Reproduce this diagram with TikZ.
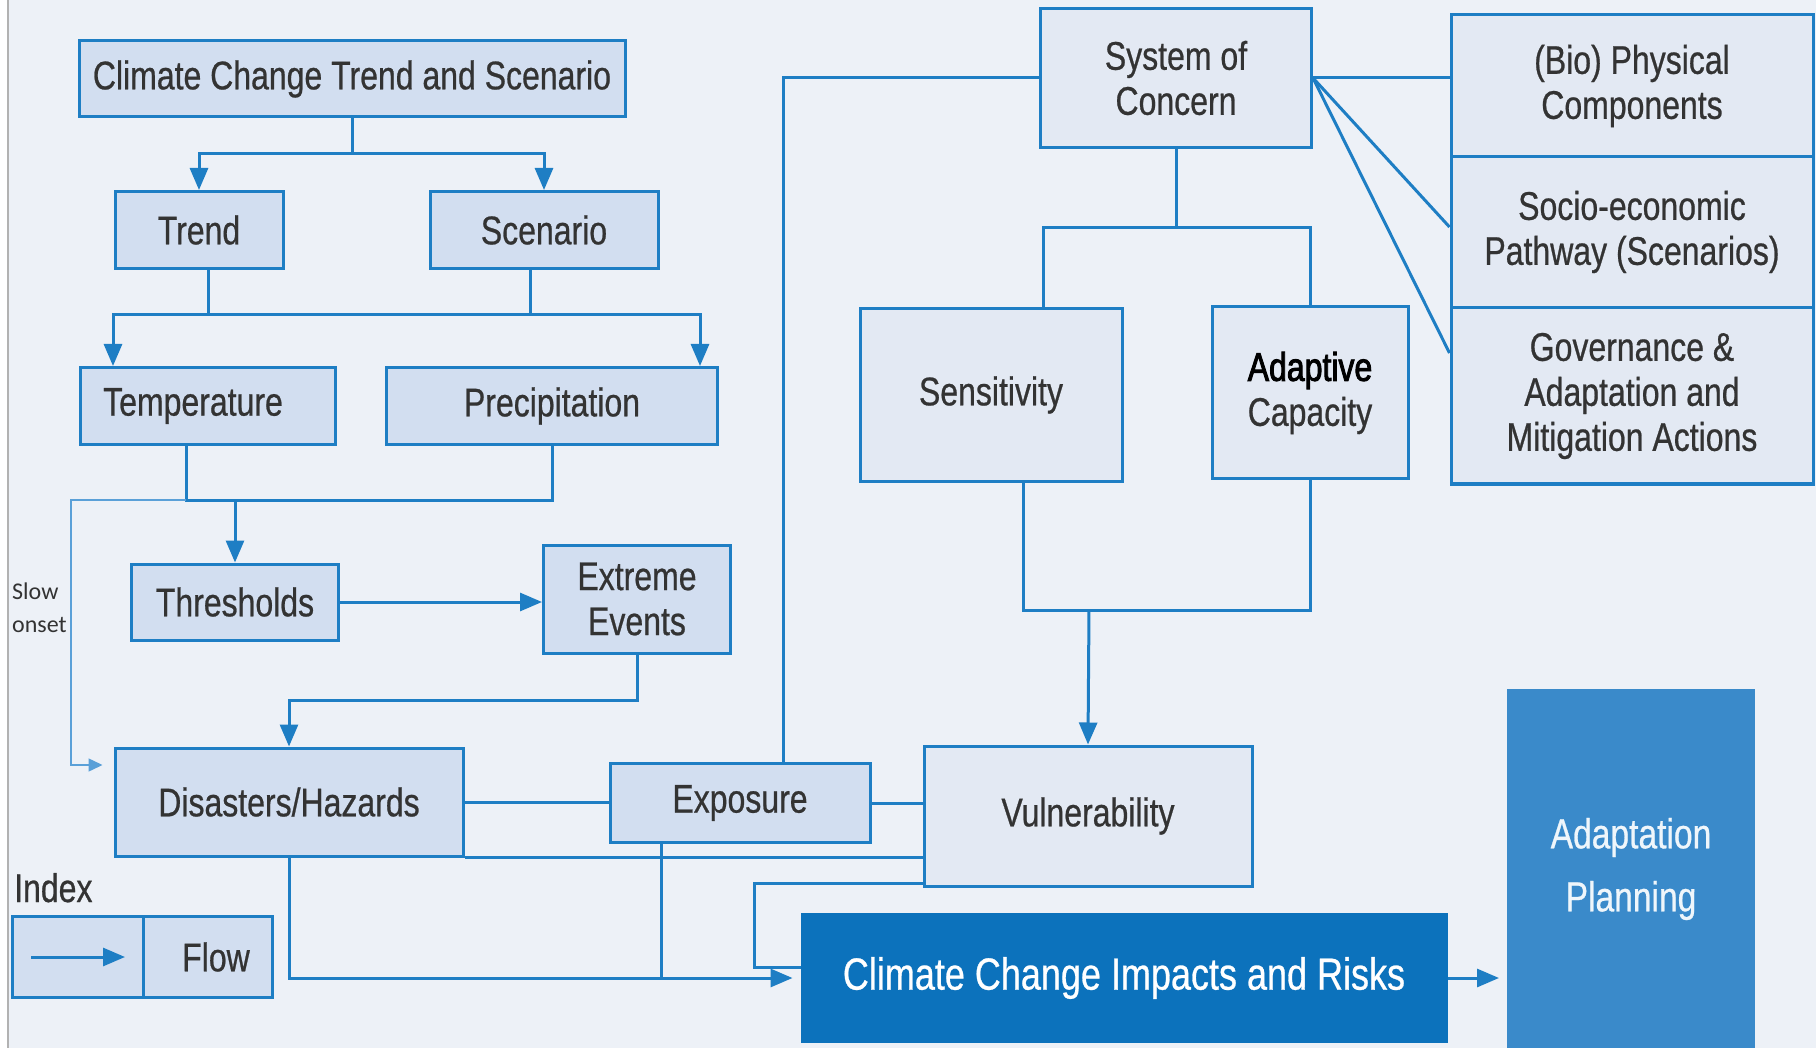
\documentclass[tikz,border=0pt]{standalone}
\usepackage{fontspec}
\usetikzlibrary{arrows.meta}
\newfontfamily\boxfont{Liberation Sans}[FakeStretch=0.8, FakeBold=0.6]
\newfontfamily\heavyfont{Liberation Sans}[FakeStretch=0.8, FakeBold=2.2]
\newfontfamily\slowfont{Carlito}
\definecolor{lineblue}{HTML}{1E7EC4}
\definecolor{boxfill}{HTML}{D2DEF0}
\definecolor{lightfill}{HTML}{E3E9F3}
\definecolor{bgcol}{HTML}{EDF1F7}
\definecolor{txtgray}{HTML}{333333}
\definecolor{riskblue}{HTML}{0C72BC}
\definecolor{planblue}{HTML}{3A8ACA}
\definecolor{slowblue}{HTML}{5AA0D8}
\begin{document}
\begin{tikzpicture}[x=1pt, y=-1pt,
    box/.style={draw=lineblue, line width=3pt, fill=boxfill, text=txtgray, align=center, inner sep=0pt,
      font={\boxfont\fontsize{40}{45}\selectfont}},
    lbox/.style={box, fill=lightfill},
    link/.style={draw=lineblue, line width=3pt},
    flow/.style={link, -{Triangle[length=22pt,width=18pt]}},
    slow/.style={draw=slowblue, line width=1.5pt, -{Triangle[length=14pt,width=13pt]}}]
  \useasboundingbox (0,0) rectangle (1816,1048);
  \fill[white] (0,0) rectangle (1816,1048);
  \fill[bgcol] (8,0) rectangle (1816,1048);
  \draw[gray!60, line width=1.5pt] (8,0) -- (8,1048);

  % left column
  \node[box, minimum width=546pt, minimum height=76pt] (cct) at (352,79) {Climate Change Trend and Scenario};
  \node[box, minimum width=168pt, minimum height=77pt] (trend) at (199,230) {Trend};
  \node[box, minimum width=228pt, minimum height=77pt] (scen) at (544,230) {Scenario};
  \node[box, minimum width=255pt, minimum height=77pt] (temp) at (208,406) {Temperature\hspace*{30pt}};
  \node[box, minimum width=331pt, minimum height=77pt] (prec) at (552,406) {Precipitation};
  \node[box, minimum width=207pt, minimum height=76pt] (thr) at (235,602) {Thresholds};
  \node[box, minimum width=187pt, minimum height=108pt] (ext) at (637,599) {Extreme\\Events};
  \node[box, minimum width=348pt, minimum height=108pt] (dis) at (289,802) {Disasters/Hazards};
  \node[box, minimum width=260pt, minimum height=79pt] (expo) at (740,803) {Exposure};

  % right part
  \node[lbox, minimum width=271pt, minimum height=139pt] (soc) at (1176,78) {System of\\Concern};
  \node[lbox, minimum width=362pt, minimum height=142pt] (bio) at (1632,86) {(Bio) Physical\\Components};
  \node[lbox, minimum width=362pt, minimum height=151pt] (socio) at (1632,232) {Socio-economic\\Pathway (Scenarios)};
  \node[lbox, minimum width=362pt, minimum height=176pt] (gov) at (1632,396) {Governance \&\\Adaptation and\\Mitigation Actions};
  \node[lbox, minimum width=262pt, minimum height=173pt] (sens) at (991,395) {Sensitivity};
  \node[lbox, minimum width=196pt, minimum height=172pt] (adc) at (1310,393) {{\heavyfont\color{black}Adaptive}\\Capacity};
  \node[lbox, minimum width=328pt, minimum height=140pt] (vul) at (1088,816) {Vulnerability};
  \node[box, draw=riskblue, fill=riskblue, text=white, minimum width=644pt, minimum height=127pt,
    font={\boxfont\fontsize{45}{50}\selectfont}] (ccir) at (1124,978) {Climate Change Impacts and Risks};
  \node[box, draw=planblue, fill=planblue, text=white!92!planblue, minimum width=245pt, minimum height=358pt,
    font={\boxfont\fontsize{42}{63}\selectfont}] (adp) at (1631,869) {Adaptation\\Planning};

  % index
  \node[anchor=base west, inner sep=0pt, text=txtgray, font={\boxfont\fontsize{40}{45}\selectfont}] (index) at (14,902) {Index};
  \node[box, minimum width=131pt, minimum height=81pt] (legarr) at (78,957) {};
  \node[box, minimum width=129pt, minimum height=81pt] (legflow) at (208,957) {\hspace*{16pt}Flow};
  \draw[flow] ([xshift=20pt]legarr.west) -- ([xshift=-20pt]legarr.east);

  \node[anchor=west, inner sep=0pt, align=left, text=black!80, font={\slowfont\fontsize{24}{33}\selectfont}] (slowtxt) at (12,608) {Slow\\onset};

  % trend and scenario
  \coordinate (cj) at (352,154);
  \draw[link] (cct.south) -- (cj);
  \draw[flow] (cj) -| (trend.north);
  \draw[flow] (cj) -| (scen.north);

  \coordinate (tt) at (208,315);
  \coordinate (ts) at (530,315);
  \draw[link] (tt |- trend.south) -- (tt);
  \draw[link] (ts |- scen.south) -- (ts);
  \draw[link] (tt) -- (ts);
  \draw[flow] (tt) -| ([xshift=34pt]temp.north west);
  \draw[flow] (ts) -| ([xshift=-19pt]prec.north east);

  \coordinate (tp) at (186,500);
  \draw[link] (tp |- temp.south) -- (tp) -- (tp -| prec.south) -- (prec.south);
  \draw[flow] (tp -| thr.north) -- (thr.north);
  \coordinate (so) at (71,765);
  \draw[slow] (tp) -| (so) -- ([xshift=-11pt]dis.west |- so);

  \draw[flow] (thr.east) -- (ext.west |- thr.east);
  \draw[flow] (ext.south) -- ++(0,46) -| (dis.north);

  % exposure and vulnerability
  \draw[link] (dis.east) -- (expo.west |- dis.east);
  \draw[link] (expo.east) -- (vul.west |- expo.east);
  \draw[link] (dis.south east) -- (vul.west |- dis.south east);
  \draw[link] ([xshift=43pt]expo.north) |- (soc.west);

  % system of concern
  \draw[link] (soc.east) -- (bio.west |- soc.east);
  \draw[link] (soc.east) -- ([yshift=5pt]socio.west);
  \draw[link] (soc.east) -- ([yshift=43pt]gov.west);
  \coordinate (sj) at (1176,228);
  \draw[link] (soc.south) -- (sj);
  \draw[link] (sj) -| ([xshift=52pt]sens.north);
  \draw[link] (sj) -| (adc.north);
  \coordinate (vj) at (1089,610);
  \draw[link] ([xshift=32pt]sens.south) |- (vj -| adc.south) -- (adc.south);
  \draw[flow] (vj) -- (vul.north);

  % impacts
  \draw[flow] (dis.south) |- ([xshift=-8pt]ccir.west);
  \draw[link] ([xshift=-79pt]expo.south) -- ([xshift=-79pt]expo.south |- ccir.west);
  \draw[link] ([yshift=4pt]vul.south west) -- ++(-168,0) |- ([yshift=11pt]ccir.west);
  \draw[flow] (ccir.east) -- ([xshift=-8pt]adp.west |- ccir.east);
\end{tikzpicture}
\end{document}
